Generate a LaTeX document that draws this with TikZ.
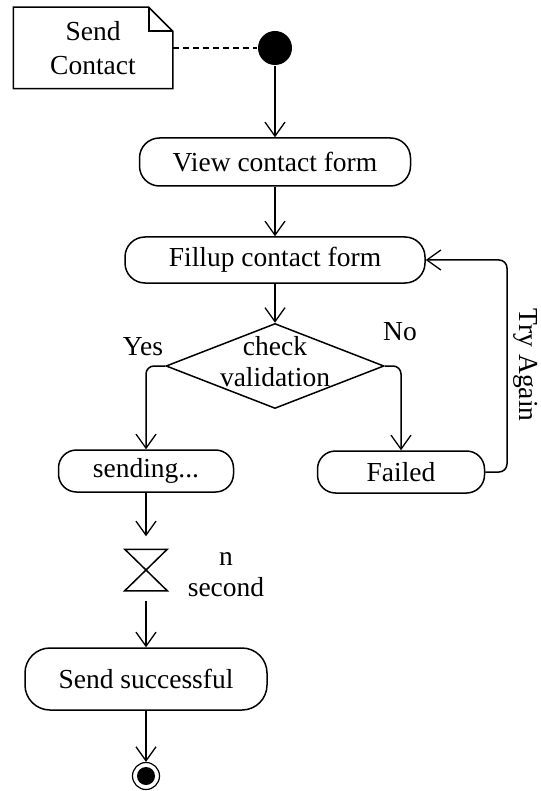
\documentclass[tikz,border=0pt]{standalone}
\usepackage{fontspec}
\setmainfont{Liberation Serif}
\usetikzlibrary{arrows.meta,shapes.geometric,calc}

\begin{document}
\begin{tikzpicture}[x=1pt,y=-1pt,line width=1.5pt,
    >={Straight Barb[length=14pt,width=20pt,line width=1.3pt]},
    every node/.style={font=\fontsize{27.5}{31}\selectfont,inner sep=0},
    act/.style={draw,rectangle,rounded corners=20pt,minimum height=48pt}]
    \useasboundingbox (0,0) rectangle (540,791);
    \node[minimum width=158pt,minimum height=80pt,align=center](note) at (93,48) {Send\\[3pt]Contact};
    \draw (note.north west) -- ($(note.north east)+(-24,0)$) -- ($(note.north east)+(0,24)$)
        -- (note.south east) -- (note.south west) -- cycle;
    \draw ($(note.north east)+(-24,0)$) |- ($(note.north east)+(0,24)$);
    \node[circle,fill,minimum size=34pt](start) at (275,48) {};
    \node[act,minimum width=271pt](view) at (275,162) {View contact form};
    \node[act,minimum width=300pt,minimum height=46pt](fill) at (275,260) {Fillup contact form};
    \node[diamond,draw,minimum width=218pt,minimum height=85pt](check) at (275,366) {};
    \node[align=center](checktext) at (275,362) {check\\validation};
    \node(yes) at (143,347) {Yes};
    \node(no) at (400,332) {No};
    \node[act,minimum width=175pt,minimum height=42pt,rounded corners=18pt](send) at (146,471) {sending...};
    \node[act,minimum width=167pt,minimum height=42pt,rounded corners=18pt](fail) at (401,472) {Failed};
    \coordinate(retry) at (507,260);
    \node[rotate=-90](tryagain) at (526,365) {Try Again};
    \node[minimum width=41pt,minimum height=40pt](wait) at (146,570) {};
    \draw (wait.north west) -- (wait.north east) -- (wait.south west) -- (wait.south east) -- cycle;
    \node[align=center](nsec) at (226,575) {n\\second};
    \node[act,minimum width=242pt,minimum height=62pt,rounded corners=25pt](done) at (146,679) {Send successful};
    \node[circle,draw,line width=1.2pt,minimum size=27pt](end) at (146,776) {};
    \fill (end.center) circle (9pt);
    \draw[dash pattern=on 6pt off 4pt] (note.east) -- (start);
    \draw[->] (start) -- (view);
    \draw[->] (view) -- (fill);
    \draw[->] (fill) -- (check);
    \draw[->,rounded corners=8pt] (check.west) -| (send.north);
    \draw[->,rounded corners=8pt] (check.east) -| (fail.north);
    \draw[->,rounded corners=8pt] (fail.east) -| (retry) -- (fill.east);
    \draw[->,shorten >=13pt] (send) -- (wait);
    \draw[->,shorten <=10pt] (wait) -- (done);
    \draw[->] (done) -- (end);
\end{tikzpicture}
\end{document}
